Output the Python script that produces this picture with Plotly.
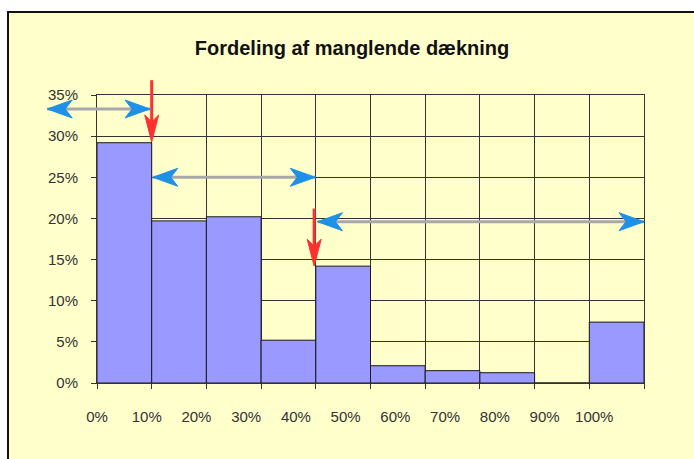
import plotly.graph_objects as go

# ---- data ----
bin_starts = [0, 10, 20, 30, 40, 50, 60, 70, 80, 90]          # % lower edge of each bin
shares = [29.2, 19.7, 20.2, 5.2, 14.2, 2.1, 1.5, 1.25, 0.0, 7.4]  # % of cases
x_tick_labels = ["0%", "10%", "20%", "30%", "40%", "50%", "60%", "70%", "80%", "90%", "100%"]
title_text = "Fordeling af manglende dækning"

# double-headed (blue) arrows: (y level %, x start %, x end %)
blue_arrows = [(33.3, -9.1, 9.7), (25.0, 10.2, 39.9), (19.6, 40.3, 100.0)]
# red down arrows: (x %, y from %, y to %)
red_arrows = [(10.0, 36.8, 29.3), (39.7, 21.2, 14.2)]

# ---- layout constants ----
W, H = 694, 459
PLOT_L, PLOT_R, PLOT_T, PLOT_B = 97, 644, 95, 383   # target plot area in window pixels
ML, MT = PLOT_L, PLOT_T
PW, PH = PLOT_R - PLOT_L, PLOT_B - PLOT_T
MR, MB = W - ML - PW, H - MT - PH
X_MAX, Y_MAX = 100, 35
FONT = "Liberation Sans, Arial, sans-serif"
BG = "#FFFFCC"
GRID = "#333333"
BLUE = "#1E90E8"
RED = "#FF3030"
SHAFT = "#A8A8A8"


def px2paper_x(px):
    return (px - PLOT_L) / PW


def px2paper_y(py):
    return (PLOT_B - py) / PH


centers = [s + 5 for s in bin_starts]

fig = go.Figure(
    go.Bar(
        x=centers,
        y=shares,
        width=[10] * len(centers),
        marker=dict(color="#9999FF", line=dict(color="#1a1a1a", width=1)),
        hoverinfo="skip",
    )
)

n_lab = len(x_tick_labels)
tickvals = [i * X_MAX / n_lab for i in range(n_lab)]

shapes = []
# outer chart frame (continues beyond the right and bottom edges)
shapes.append(dict(type="rect", xref="paper", yref="paper", layer="below",
                   x0=px2paper_x(8), x1=px2paper_x(720), y0=px2paper_y(480), y1=px2paper_y(12),
                   fillcolor=BG, line=dict(color="#111111", width=2)))

for (yv, xa, xb) in blue_arrows:
    yp = yv / Y_MAX
    xpa, xpb = xa / X_MAX, xb / X_MAX
    shapes.append(dict(type="line", xref="paper", yref="paper", x0=xpa, x1=xpb, y0=yp, y1=yp,
                       line=dict(color=SHAFT, width=3)))
    shapes.append(dict(type="path", xref="paper", yref="paper", xsizemode="pixel", ysizemode="pixel",
                       xanchor=xpb, yanchor=yp, path="M0,0 L-25,9 L-18,0 L-25,-9 Z",
                       fillcolor=BLUE, line=dict(color=BLUE, width=1)))
    shapes.append(dict(type="path", xref="paper", yref="paper", xsizemode="pixel", ysizemode="pixel",
                       xanchor=xpa, yanchor=yp, path="M0,0 L25,9 L18,0 L25,-9 Z",
                       fillcolor=BLUE, line=dict(color=BLUE, width=1)))

for (xv, ya, yb) in red_arrows:
    xp = xv / X_MAX
    shapes.append(dict(type="line", xref="paper", yref="paper", x0=xp, x1=xp,
                       y0=ya / Y_MAX, y1=yb / Y_MAX + 0.05, line=dict(color=RED, width=3)))
    shapes.append(dict(type="path", xref="paper", yref="paper", xsizemode="pixel", ysizemode="pixel",
                       xanchor=xp, yanchor=yb / Y_MAX, path="M0,0 L-7,27 L0,20 L7,27 Z",
                       fillcolor=RED, line=dict(color=RED, width=1)))

fig.update_layout(
    width=W, height=H,
    margin=dict(l=ML, r=MR, t=MT, b=MB, pad=0),
    paper_bgcolor="white",
    plot_bgcolor=BG,
    showlegend=False,
    bargap=0,
    font=dict(family=FONT, size=15, color="#333333"),
    title=dict(text="<b>" + title_text + "</b>", font=dict(family=FONT, size=20, color="#111111"),
               x=px2paper_x(352), xref="paper", xanchor="center",
               y=1 - 48 / H, yref="container", yanchor="middle"),
    xaxis=dict(range=[0, X_MAX], tickmode="array", tickvals=tickvals, ticktext=x_tick_labels,
               ticks="", showgrid=False, zeroline=False,
               showline=True, mirror=True, linecolor=GRID, linewidth=1,
               ticklabelstandoff=20,
               minor=dict(tickmode="linear", tick0=0, dtick=10, ticks="outside", ticklen=5,
                          tickcolor=GRID, showgrid=True, gridcolor=GRID, gridwidth=1)),
    yaxis=dict(range=[0, Y_MAX], tickmode="linear", tick0=0, dtick=5, ticksuffix="%",
               ticks="outside", ticklen=5, tickcolor=GRID, showgrid=True, gridcolor=GRID, gridwidth=1,
               zeroline=False, showline=True, mirror=True, linecolor=GRID, linewidth=1,
               ticklabelstandoff=10),
    shapes=shapes,
)

fig.write_html(
    "out.html",
    config={"displayModeBar": False, "staticPlot": True},
    post_script="document.body.style.margin='0';document.body.style.overflow='hidden';",
)
